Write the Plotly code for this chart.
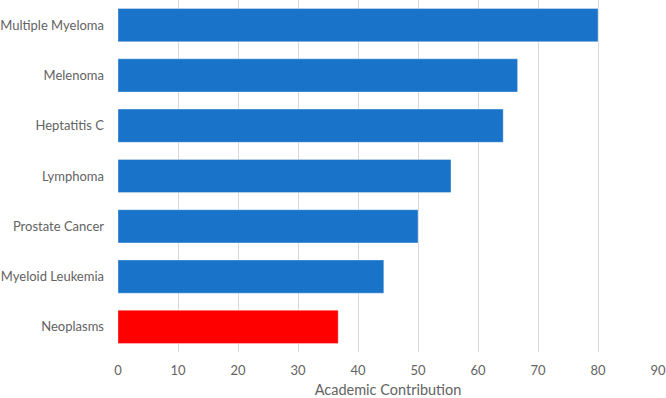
import plotly.graph_objects as go

categories = ["Multiple Myeloma", "Melenoma", "Heptatitis C", "Lymphoma",
              "Prostate Cancer", "Myeloid Leukemia", "Neoplasms"]
values = [80.0, 66.6, 64.2, 55.5, 50.0, 44.3, 36.7]
colors = ["#1873c9"] * 6 + ["#ff0000"]
x_ticks = [0, 10, 20, 30, 40, 50, 60, 70, 80, 90]

fig = go.Figure(go.Bar(
    y=categories, x=values, orientation="h",
    marker=dict(color=colors, line=dict(color="rgba(255,255,255,0.35)", width=1)),
    width=0.66,
))

font_family = "Lato, 'Open Sans', sans-serif"
text_color = "#636363"
fig.update_layout(
    width=666, height=398,
    margin=dict(l=118, r=8, t=0, b=46, autoexpand=False),
    paper_bgcolor="white", plot_bgcolor="white",
    font=dict(family=font_family, color=text_color, size=13),
    showlegend=False,
    xaxis=dict(range=[0, 90], tickvals=x_ticks, showgrid=True, gridcolor="#d9d9d9",
               gridwidth=1, zeroline=False, showline=False, ticks="", automargin=False,
               ticklabelstandoff=9,
               title=dict(text="Academic Contribution", standoff=11,
                          font=dict(size=14.5, color=text_color)),
               tickfont=dict(size=13, color=text_color)),
    yaxis=dict(categoryorder="array", categoryarray=categories[::-1],
               range=[-0.5, 6.5], showgrid=False, zeroline=False, showline=False,
               ticks="", ticklabelstandoff=13, automargin=False,
               tickfont=dict(size=13, color=text_color)),
)

fig.write_html("out.html", config={"displayModeBar": False},
               post_script="document.body.style.margin='0';")
